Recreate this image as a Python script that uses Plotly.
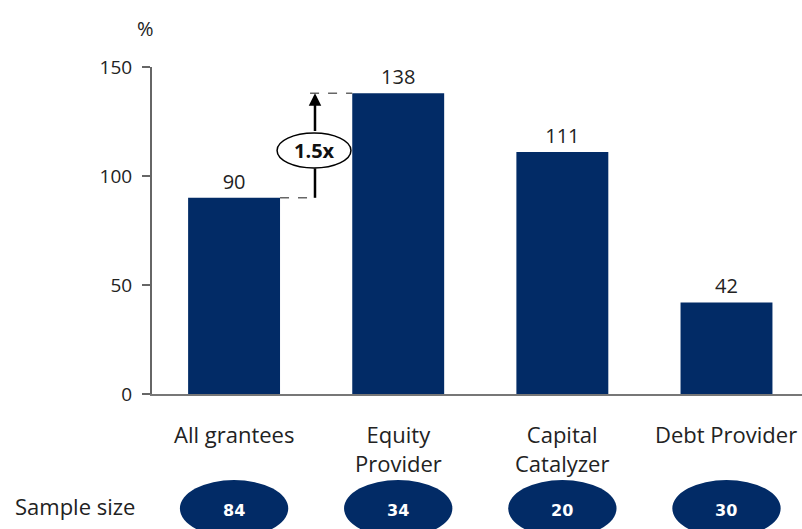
import plotly.graph_objects as go

categories = ["All grantees", "Equity Provider", "Capital Catalyzer", "Debt Provider"]
tick_labels = ["All grantees", "Equity<br>Provider", "Capital<br>Catalyzer", "Debt Provider"]
values = [90, 138, 111, 42]
sample_sizes = [84, 34, 20, 30]
y_ticks = [0, 50, 100, 150]
y_tick_labels = ["0", "50", "100", "150"]
multiple_label = "1.5x"

NAVY = "#022B66"
TXT = "#222222"
FONT = "Open Sans"

W, H = 802, 529
L, R, T, B = 152, 0, 67, 135
pw, ph = W - L - R, H - T - B


def px_x(p):
    return (p - L) / pw


def px_y(p):
    return (H - B - p) / ph


xs = list(range(len(categories)))

fig = go.Figure()
fig.add_trace(go.Bar(
    x=xs, y=values, marker=dict(color=NAVY, line=dict(width=0)),
    text=[str(v) for v in values], textposition="outside",
    textfont=dict(family=FONT, size=20, color=TXT), cliponaxis=False,
    hoverinfo="skip",
))

half_w = 0.28
shapes = []
annotations = []

# dashed guide lines
shapes.append(dict(type="line", xref="x", yref="y", x0=0 + half_w, x1=0.493,
                   y0=values[0], y1=values[0], line=dict(color="#666", width=1.5, dash="dash")))
shapes.append(dict(type="line", xref="x", yref="y", x0=0.463, x1=1 - half_w,
                   y0=values[1], y1=values[1], line=dict(color="#666", width=1.5, dash="dash")))
# lower arrow shaft
shapes.append(dict(type="line", xref="x", yref="y", x0=0.493, x1=0.493,
                   y0=values[0], y1=103.5, line=dict(color="black", width=2.5)))
# upper arrow
annotations.append(dict(x=0.493, y=values[1], ax=0.493, ay=120, xref="x", yref="y",
                        axref="x", ayref="y", showarrow=True, arrowhead=2, arrowsize=1,
                        arrowwidth=2.5, arrowcolor="black", text=""))
# ellipse with multiple
shapes.append(dict(type="circle", xref="x", yref="y", x0=0.487 - 0.225, x1=0.487 + 0.225,
                   y0=103.7, y1=119.7, line=dict(color="black", width=1.5), fillcolor="white"))
annotations.append(dict(x=0.487, y=111.7, xref="x", yref="y", text="<b>" + multiple_label + "</b>",
                        showarrow=False, xanchor="center", yanchor="middle",
                        font=dict(family=FONT, size=20, color="#111")))

# category labels
for i, lab in enumerate(tick_labels):
    annotations.append(dict(x=i, y=px_y(417), xref="x", yref="paper", text=lab, showarrow=False,
                            xanchor="center", yanchor="top",
                            font=dict(family=FONT, size=22, color=TXT), align="center"))

# sample size row
annotations.append(dict(x=px_x(13), y=px_y(506), xref="paper", yref="paper", text="Sample size",
                        showarrow=False, xanchor="left", yanchor="middle",
                        font=dict(family=FONT, size=22, color=TXT)))
for i, n in enumerate(sample_sizes):
    shapes.append(dict(type="circle", xref="x", yref="paper", x0=i - 0.33, x1=i + 0.33,
                       y0=px_y(480), y1=px_y(537), line=dict(width=0), fillcolor=NAVY))
    annotations.append(dict(x=i, y=px_y(510), xref="x", yref="paper", text="<b>%d</b>" % n,
                            showarrow=False, xanchor="center", yanchor="middle",
                            font=dict(family="DejaVu Sans", size=16, color="white")))

# % label
annotations.append(dict(x=px_x(145), y=px_y(28), xref="paper", yref="paper", text="%",
                        showarrow=False, xanchor="center", yanchor="middle",
                        font=dict(family=FONT, size=20, color=TXT)))

fig.update_layout(
    width=W, height=H, margin=dict(l=L, r=R, t=T, b=B, pad=0),
    paper_bgcolor="white", plot_bgcolor="white", showlegend=False,
    bargap=0.44, shapes=shapes, annotations=annotations,
    xaxis=dict(range=[-0.5, 3.46], showticklabels=False, ticks="", showgrid=False,
               zeroline=False, showline=True, linecolor="#777", linewidth=2, fixedrange=True),
    yaxis=dict(range=[0, 150], tickvals=y_ticks, ticktext=y_tick_labels, ticks="outside",
               ticklen=8, tickwidth=2, tickcolor="#666", showline=True, linecolor="#666",
               linewidth=2, showgrid=False, zeroline=False,
               tickfont=dict(family=FONT, size=19, color=TXT), ticklabelstandoff=6),
)

fig.write_html("out.html")
